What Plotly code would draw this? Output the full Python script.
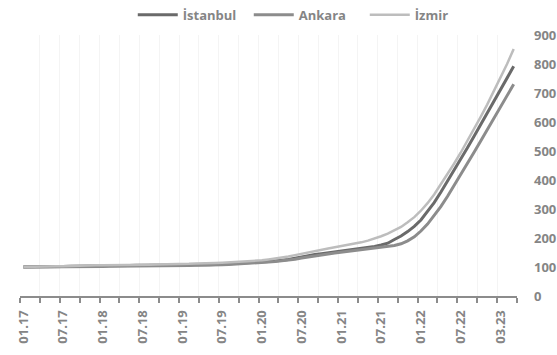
import plotly.graph_objects as go

# Monthly house price index (01.17 = 100), one value per month
months = list(range(75))

istanbul = [
    100, 100, 101, 101, 102, 102, 102, 103, 103, 103, 104, 104,
    104, 105, 105, 105, 105, 106, 106, 106, 106, 106, 106, 106,
    107, 107, 107, 108, 108, 109, 110, 111, 112, 113, 114, 115,
    117, 119, 121, 123, 126, 130, 135, 139, 143, 146, 149, 152,
    155, 158, 161, 164, 167, 171, 176, 182, 195, 207, 222, 240,
    262, 290, 322, 358, 395, 432, 470, 510, 550, 590, 630, 670,
    710, 752, 792,
]

ankara = [
    100, 100, 100, 100, 101, 101, 101, 101, 102, 102, 102, 102,
    102, 103, 103, 103, 103, 103, 104, 104, 104, 104, 104, 105,
    105, 105, 106, 106, 107, 107, 108, 109, 110, 111, 112, 113,
    115, 117, 119, 121, 124, 127, 131, 135, 139, 142, 145, 148,
    151, 154, 157, 160, 163, 165, 167, 170, 174, 180, 190, 204,
    224, 248, 276, 308, 343, 380, 418, 456, 495, 534, 574, 614,
    655, 694, 730,
]

izmir = [
    100, 101, 101, 102, 102, 103, 103, 104, 104, 105, 105, 106,
    106, 106, 107, 107, 107, 108, 108, 108, 109, 109, 110, 110,
    111, 111, 112, 112, 113, 114, 115, 116, 117, 118, 120, 121,
    123, 126, 129, 132, 136, 141, 146, 151, 156, 160, 164, 168,
    172, 176, 180, 185, 191, 198, 206, 215, 226, 238, 254, 272,
    294, 320, 350, 384, 420, 456, 494, 534, 575, 617, 660, 705,
    752, 800, 852,
]

# Labelled months (every sixth category) and their texts
label_pos = [0, 6, 12, 18, 24, 30, 36, 42, 48, 54, 60, 66, 72]
label_text = ["01.17", "07.17", "01.18", "07.18", "01.19", "07.19", "01.20",
              "07.20", "01.21", "07.21", "01.22", "07.22", "03.23"]

# Tick marks sit on category boundaries every three months
boundary_ticks = [k - 0.5 for k in range(0, 76, 3)]

TEXT = "#858585"
FONT = dict(family="Open Sans", size=13, color=TEXT, weight=700)

fig = go.Figure()
fig.add_trace(go.Scatter(x=months, y=istanbul, name="İstanbul", mode="lines",
                         line=dict(color="#6a6a6a", width=3)))
fig.add_trace(go.Scatter(x=months, y=ankara, name="Ankara", mode="lines",
                         line=dict(color="#8c8c8c", width=3)))
fig.add_trace(go.Scatter(x=months, y=izmir, name="İzmir", mode="lines",
                         line=dict(color="#bdbdbd", width=2.5)))

fig.update_layout(
    width=557, height=355,
    margin=dict(l=20, r=40, t=35, b=59, autoexpand=False),
    paper_bgcolor="white", plot_bgcolor="white",
    font=FONT,
    showlegend=True,
    legend=dict(orientation="h", x=0.577, xanchor="center", y=1.077,
                yanchor="middle", font=FONT, bgcolor="rgba(0,0,0,0)",
                itemwidth=40, tracegroupgap=0,
                entrywidth=61, entrywidthmode="pixels"),
    xaxis=dict(
        range=[-0.5, 74.5],
        tickmode="array", tickvals=label_pos, ticktext=label_text,
        tickangle=-90, ticks="", ticklabelstandoff=7,
        showgrid=False, zeroline=False,
        showline=True, linecolor="#8c8c8c", linewidth=2,
        minor=dict(tickmode="array", tickvals=boundary_ticks, ticks="outside",
                   ticklen=5, tickwidth=2, tickcolor="#8c8c8c",
                   showgrid=True, gridcolor="#f4f4f4", gridwidth=1),
        fixedrange=True,
    ),
    yaxis=dict(
        side="right", range=[0, 900], dtick=100,
        showgrid=False, zeroline=False, showline=False,
        ticks="", ticklabelstandoff=16,
        fixedrange=True,
    ),
)

fig.write_html("out.html")
